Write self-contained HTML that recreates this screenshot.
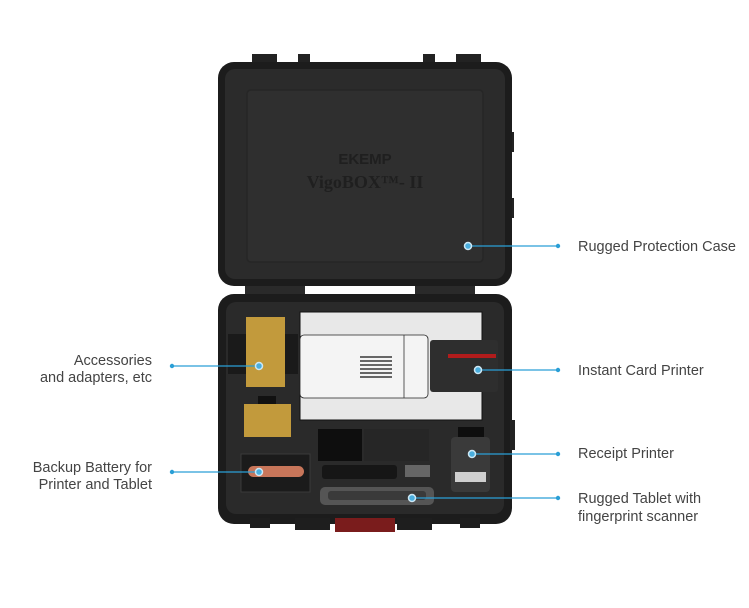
<!DOCTYPE html>
<html><head><meta charset="utf-8"><style>
html,body{margin:0;padding:0;background:#fff;}
svg{display:block;}
text{font-family:"Liberation Sans",sans-serif;font-size:14.5px;fill:#444;}
</style></head><body>
<svg width="749" height="608" viewBox="0 0 749 608" xmlns="http://www.w3.org/2000/svg">
<rect x="252" y="54" width="25" height="12" fill="#222"/>
<rect x="298" y="54" width="12" height="12" fill="#222"/>
<rect x="423" y="54" width="12" height="12" fill="#222"/>
<rect x="456" y="54" width="25" height="12" fill="#222"/>
<rect x="508" y="132" width="6" height="20" fill="#222"/>
<rect x="508" y="198" width="6" height="20" fill="#222"/>
<rect x="218" y="62" width="294" height="224" rx="16" fill="#1c1c1c"/>
<rect x="225" y="69" width="280" height="210" rx="10" fill="#2b2b2b"/>
<rect x="247" y="90" width="236" height="172" rx="4" fill="#2f2f2f" stroke="#262626" stroke-width="1.5"/>
<text x="365" y="164" text-anchor="middle" style="font-size:15px;font-weight:bold;fill:#1f1f1f">EKEMP</text>
<text x="365" y="188" text-anchor="middle" style="font-size:18px;font-family:'Liberation Serif',serif;font-weight:bold;fill:#1f1f1f">VigoBOX™- II</text>
<rect x="245" y="286" width="60" height="10" fill="#2a2a2a"/>
<rect x="415" y="286" width="60" height="10" fill="#2a2a2a"/>
<rect x="218" y="294" width="294" height="230" rx="16" fill="#1c1c1c"/>
<rect x="226" y="302" width="278" height="212" rx="10" fill="#2a2a2a"/>
<rect x="510" y="420" width="5" height="30" fill="#222"/>
<rect x="295" y="518" width="35" height="12" fill="#1e1e1e"/>
<rect x="335" y="518" width="60" height="14" fill="#7a1c1c"/>
<rect x="397" y="518" width="35" height="12" fill="#1e1e1e"/>
<rect x="250" y="518" width="20" height="10" fill="#1e1e1e"/>
<rect x="460" y="518" width="20" height="10" fill="#1e1e1e"/>
<rect x="300" y="312" width="182" height="108" fill="#e8e8e8" stroke="#111" stroke-width="1"/>
<rect x="300" y="335" width="128" height="63" rx="4" fill="#f4f4f4" stroke="#222" stroke-width="0.8"/>
<line x1="404" y1="335" x2="404" y2="398" stroke="#333" stroke-width="0.8"/>
<g stroke="#111" stroke-width="1.3">
<line x1="360" y1="357" x2="392" y2="357"/><line x1="360" y1="361" x2="392" y2="361"/>
<line x1="360" y1="365" x2="392" y2="365"/><line x1="360" y1="369" x2="392" y2="369"/>
<line x1="360" y1="373" x2="392" y2="373"/><line x1="360" y1="377" x2="392" y2="377"/>
</g>
<rect x="430" y="340" width="68" height="52" rx="3" fill="#2e2e2e"/>
<rect x="448" y="354" width="48" height="4" fill="#b11c1c"/>
<rect x="228" y="334" width="70" height="40" fill="#1a1a1a"/>
<rect x="246" y="317" width="39" height="70" fill="#c29a3c"/>
<rect x="258" y="396" width="18" height="10" fill="#111"/>
<rect x="244" y="404" width="47" height="33" fill="#c29a3c"/>
<rect x="241" y="454" width="69" height="38" fill="#1b1b1b" stroke="#3a3a3a"/>
<rect x="248" y="466" width="56" height="11" rx="5.5" fill="#c8765a"/>
<rect x="318" y="429" width="44" height="32" fill="#0e0e0e"/>
<rect x="364" y="429" width="65" height="32" fill="#262626"/>
<rect x="322" y="465" width="75" height="14" rx="3" fill="#161616"/>
<rect x="405" y="465" width="25" height="12" fill="#666"/>
<rect x="320" y="487" width="114" height="18" rx="5" fill="#555"/>
<rect x="328" y="491" width="98" height="9" rx="3" fill="#3a3a3a"/>
<rect x="458" y="427" width="26" height="12" fill="#0e0e0e"/>
<rect x="451" y="437" width="39" height="55" rx="4" fill="#3a3a3a"/>
<rect x="455" y="472" width="31" height="10" fill="#cfcfcf"/>
<g stroke="#2a9fd6" stroke-width="1.2" fill="#2a9fd6">
<line x1="468" y1="246" x2="558" y2="246"/>
<line x1="478" y1="370" x2="558" y2="370"/>
<line x1="472" y1="454" x2="558" y2="454"/>
<line x1="412" y1="498" x2="558" y2="498"/>
<line x1="172" y1="366" x2="259" y2="366"/>
<line x1="172" y1="472" x2="259" y2="472"/>
<circle cx="558" cy="246" r="1.6"/><circle cx="558" cy="370" r="1.6"/>
<circle cx="558" cy="454" r="1.6"/><circle cx="558" cy="498" r="1.6"/>
<circle cx="172" cy="366" r="1.6"/><circle cx="172" cy="472" r="1.6"/>
</g>
<g fill="#4aaede" stroke="#cde8f5" stroke-width="1.5">
<circle cx="468" cy="246" r="3.5"/><circle cx="478" cy="370" r="3.5"/>
<circle cx="472" cy="454" r="3.5"/><circle cx="412" cy="498" r="3.5"/>
<circle cx="259" cy="366" r="3.5"/><circle cx="259" cy="472" r="3.5"/>
</g>
<text x="578" y="251">Rugged Protection Case</text>
<text x="578" y="375">Instant Card Printer</text>
<text x="578" y="458">Receipt Printer</text>
<text x="578" y="503">Rugged Tablet with</text>
<text x="578" y="521">fingerprint scanner</text>
<text x="152" y="365" text-anchor="end">Accessories</text>
<text x="152" y="382" text-anchor="end">and adapters, etc</text>
<text x="152" y="472" text-anchor="end">Backup Battery for</text>
<text x="152" y="489" text-anchor="end">Printer and Tablet</text>
</svg>
</body></html>
